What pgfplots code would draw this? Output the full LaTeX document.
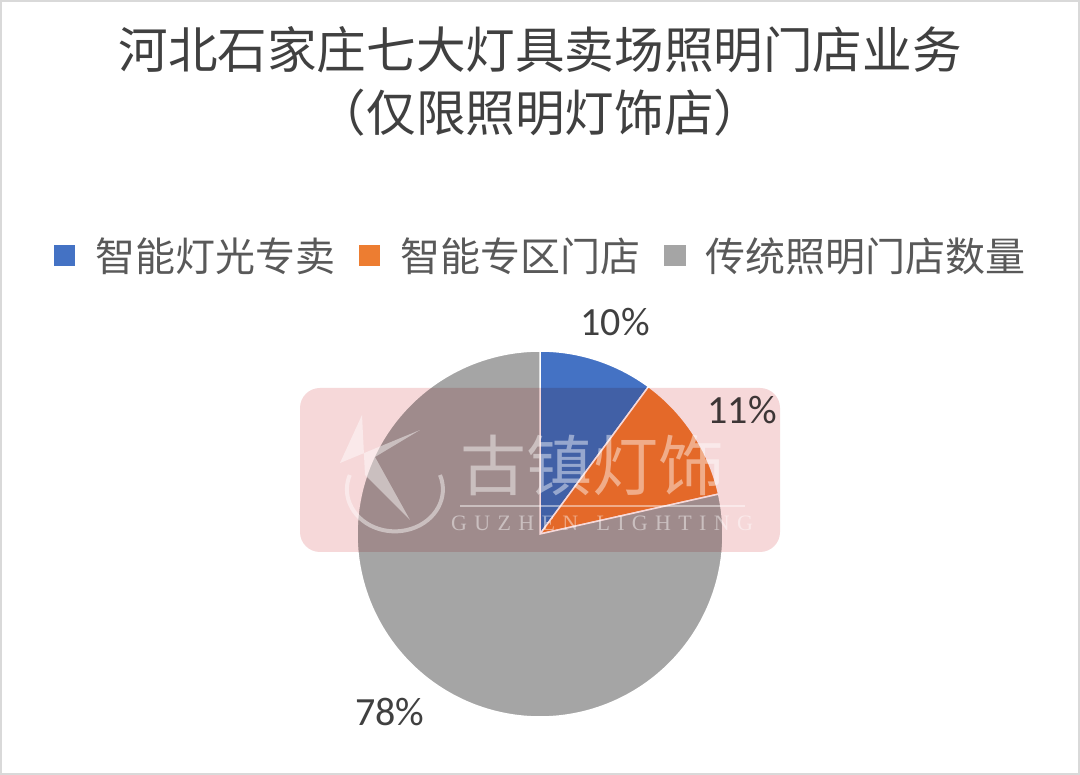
\documentclass[border=0pt]{standalone}
\usepackage{pgfplots}
\pgfplotsset{compat=1.18}
\usepackage{fontspec}
\setmainfont{Carlito}
\newfontfamily\cjk{Noto Sans CJK SC}
\newfontfamily\wmserif{Liberation Serif}
\definecolor{cblue}{HTML}{4472C4}
\definecolor{corange}{HTML}{ED7D31}
\definecolor{cgray}{HTML}{A5A5A5}
\definecolor{ttl}{HTML}{404040}
\definecolor{lgd}{HTML}{595959}
\definecolor{wmpink}{HTML}{F6D8D9}
\definecolor{frame}{HTML}{D9D9D9}

% shares in percent, clockwise from 12 o'clock
\def\vA{10.1}
\def\vB{11.4}
\def\vC{78.5}

\begin{document}
\begin{tikzpicture}[x=0.5pt,y=0.5pt]
\fill[white] (0,0) rectangle (1080,775);
\draw[frame, line width=1pt] (1,1) rectangle (1079,774);
\pgfmathsetmacro\aA{90}
\pgfmathsetmacro\aB{90-3.6*\vA}
\pgfmathsetmacro\aC{\aB-3.6*\vB}
\pgfmathsetmacro\aD{\aC-3.6*\vC}
\node[font=\cjk\fontsize{24.8pt}{30pt}\selectfont, text=ttl] at (540,725) {河北石家庄七大灯具卖场照明门店业务};
\node[font=\cjk\fontsize{24.8pt}{30pt}\selectfont, text=ttl] at (540,662) {（仅限照明灯饰店）};
\begin{axis}[at={(270pt,120.5pt)}, anchor=center, scale only axis,
  width=183pt, height=183pt, xmin=-1, xmax=1, ymin=-1, ymax=1,
  hide axis, clip=false,
  legend columns=3,
  legend image code/.code={\fill[#1, draw=none] (0pt,-5.2pt) rectangle (10.5pt,5.3pt);},
  legend style={at={(0.5,1.262)}, anchor=center, draw=none, fill=none,
    font=\cjk\fontsize{20pt}{24pt}\selectfont, text=lgd,
    nodes={inner sep=0pt, text depth=0pt},
    /tikz/every odd column/.append style={column sep=10pt},
    /tikz/every even column/.append style={column sep=12pt}},
]
\addplot[fill=cblue, draw=white, line width=0.75pt, domain=\aB:\aA, samples=60]
  ({cos(x)},{sin(x)}) -- (0,0) -- cycle;
\addlegendentry{智能灯光专卖}
\addplot[fill=corange, draw=white, line width=0.75pt, domain=\aC:\aB, samples=60]
  ({cos(x)},{sin(x)}) -- (0,0) -- cycle;
\addlegendentry{智能专区门店}
\addplot[fill=cgray, draw=white, line width=0.75pt, domain=\aD:\aC, samples=200]
  ({cos(x)},{sin(x)}) -- (0,0) -- cycle;
\addlegendentry{传统照明门店数量}
\node[font=\fontsize{20pt}{24pt}\selectfont, text=ttl, inner sep=1pt] at (axis cs:0.41,1.158) {10\%};
\node[font=\fontsize{20pt}{24pt}\selectfont, text=ttl, inner sep=1pt] at (axis cs:1.104,0.675) {11\%};
\node[font=\fontsize{20pt}{24pt}\selectfont, text=ttl, inner sep=1pt] at (axis cs:-0.82,-0.973) {78\%};
\end{axis}
% watermark
\begin{scope}[blend mode=multiply]
\fill[wmpink, rounded corners=10pt] (300,223) rectangle (780,387);
\end{scope}
\begin{scope}[white, opacity=0.45]
\node[font=\cjk\fontsize{33pt}{36pt}\selectfont, inner sep=0pt] at (592,310) {古镇灯饰};
\fill (460,270) rectangle (745,268);
\node[font=\wmserif\fontsize{11pt}{12pt}\selectfont] at (602,252) {G\,\,U\,\,Z\,\,H\,\,E\,\,N\,\,\,\,\,L\,\,I\,\,G\,\,H\,\,T\,\,I\,\,N\,\,G};
\fill (340,312) -- (420,345) -- (375,318) -- (410,255) -- (365,300) -- (362,360) -- cycle;
\draw[line width=2pt] (440,300) arc[start angle=20, end angle=-200, x radius=48, y radius=42];
\end{scope}
\end{tikzpicture}
\end{document}
